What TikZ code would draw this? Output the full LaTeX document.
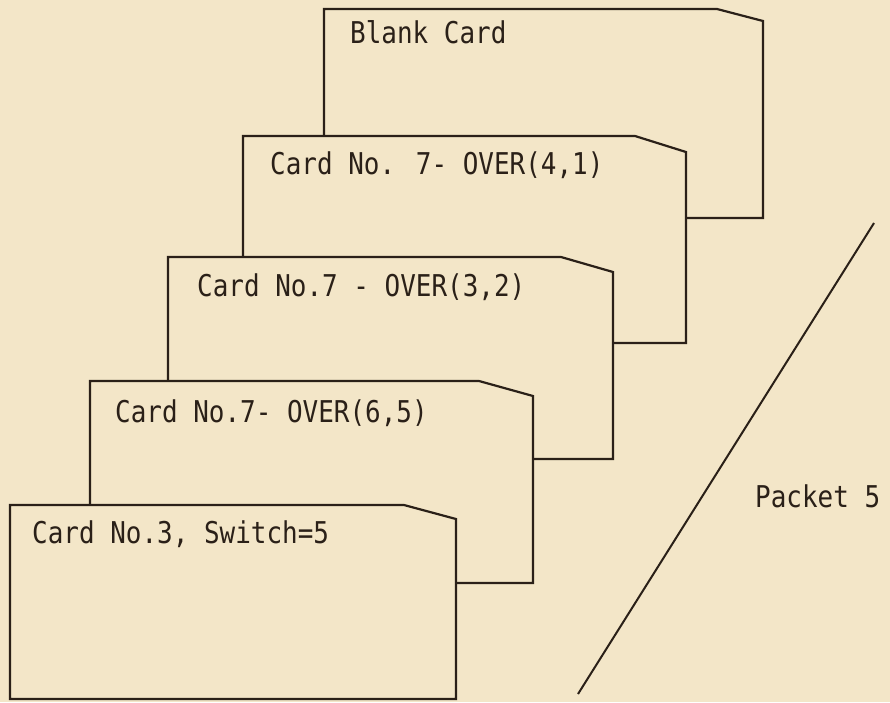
\documentclass[tikz,border=0pt]{standalone}
\usepackage{fontspec}
\newfontfamily\cardfont[FakeStretch=0.865]{DejaVu Sans Mono}
\definecolor{paper}{HTML}{F3E6C8}
\definecolor{ink}{HTML}{2A2018}
\begin{document}
\begin{tikzpicture}[x=1pt,y=-1pt,
  cardline/.style={draw=ink,line width=2.2pt,line join=miter,fill=paper},
  cardtext/.style={anchor=base west,inner sep=0pt,text=ink,font=\cardfont\fontsize{30}{33}\selectfont}]
\fill[paper] (0,0) rectangle (890,702);
\useasboundingbox (0,0) rectangle (890,702);
% card 1 (back)
\draw[cardline] (324,9) -- (717,9) -- (763,21) -- (763,218) -- (324,218) -- cycle;
\node[cardtext] (t1) at (350,43) {Blank Card};
% card 2
\draw[cardline] (243,136) -- (635,136) -- (686,152) -- (686,343) -- (243,343) -- cycle;
\node[cardtext] (t2) at (270,174) {Card No. 7- OVER(4,1)};
% card 3
\draw[cardline] (168,257) -- (561,257) -- (613,272) -- (613,459) -- (168,459) -- cycle;
\node[cardtext] (t3) at (197,296) {Card No.7 - OVER(3,2)};
% card 4
\draw[cardline] (90,381) -- (479,381) -- (533,396) -- (533,583) -- (90,583) -- cycle;
\node[cardtext] (t4) at (115,422) {Card No.7- OVER(6,5)};
% card 5 (front)
\draw[cardline] (10,505) -- (404,505) -- (456,519) -- (456,699) -- (10,699) -- cycle;
\node[cardtext] (t5) at (32,543) {Card No.3, Switch=5};
% packet line and label
\coordinate (dtop) at (874,223);
\coordinate (dbot) at (578,694);
\draw[draw=ink,line width=2pt] (dtop) -- (dbot);
\node[cardtext] (pk) at (755,507) {Packet 5};
\end{tikzpicture}
\end{document}
